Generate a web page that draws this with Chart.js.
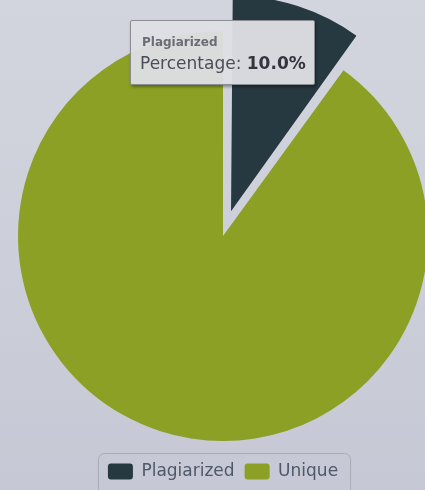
<!DOCTYPE html>
<html>
<head>
<meta charset="utf-8">
<script src="https://cdn.jsdelivr.net/npm/chart.js@4"></script>
<style>
  html, body { margin:0; padding:0; background:#cbcdd8; }
  #wrap { position:relative; width:425px; height:490px; overflow:hidden;
          background: linear-gradient(#d3d5de, #c6c9d5); }
  canvas { position:absolute; left:0; top:0; }
  #tip { position:absolute; left:130px; top:20px; width:185px; height:65px;
         background:rgba(222,223,228,0.96); border:1px solid #8a8c92; border-radius:2px;
         box-shadow: 1px 2px 3px rgba(0,0,0,0.35); font-family:"DejaVu Sans", sans-serif;
         color:#4a4e58; box-sizing:border-box; }
  #tipTitle { position:absolute; left:11px; top:14px; font-size:12px; font-weight:bold; color:#6a6d75; line-height:14px; }
  #tipBody { position:absolute; left:9px; top:32px; font-size:17px; line-height:20px; white-space:nowrap; }
  #tipBody b { color:#33363e; }
</style>
</head>
<body>
<div id="wrap">
  <canvas id="c" width="446" height="490"></canvas>
  <div id="tip"><div id="tipTitle"></div><div id="tipBody"></div></div>
</div>
<script>
const categories = ['Plagiarized', 'Unique'];
const values = [10, 90];
const sliceColors = ['#263840', '#8ba024'];
const sliceOffsets = [104, 0];

const legendBox = {
  id: 'legendBox',
  afterDraw(chart) {
    const lg = chart.legend;
    if (!lg || !lg.legendHitBoxes || !lg.legendHitBoxes.length) return;
    const hb = lg.legendHitBoxes;
    const last = hb[hb.length - 1];
    const x0 = hb[0].left - 10, x1 = last.left + last.width + 12;
    const y0 = hb[0].top - 10, y1 = hb[0].top + hb[0].height + 14;
    const ctx = chart.ctx;
    ctx.save();
    ctx.strokeStyle = '#a9acb6';
    ctx.lineWidth = 1;
    ctx.beginPath();
    ctx.roundRect(x0 + 0.5, y0 + 0.5, x1 - x0, y1 - y0, 6);
    ctx.stroke();
    ctx.restore();
  }
};

const chart = new Chart(document.getElementById('c'), {
  type: 'pie',
  data: {
    labels: categories,
    datasets: [{
      data: values,
      backgroundColor: sliceColors,
      borderWidth: 0,
      offset: sliceOffsets,
      radius: 205,
      clip: false
    }]
  },
  options: {
    responsive: false,
    animation: false,
    layout: { padding: { left: 0, right: 0, top: 19, bottom: 0 } },
    plugins: {
      tooltip: { enabled: false },
      legend: {
        position: 'bottom',
        labels: {
          boxWidth: 25, boxHeight: 16, padding: 10,
          color: '#4f5868',
          font: { family: 'DejaVu Sans', size: 17 },
          useBorderRadius: true, borderRadius: 3
        }
      }
    }
  },
  plugins: [legendBox]
});

const total = values.reduce((a, b) => a + b, 0);
document.getElementById('tipTitle').textContent = categories[0];
document.getElementById('tipBody').innerHTML = 'Percentage: <b>' + (values[0] / total * 100).toFixed(1) + '%</b>';
</script>
</body>
</html>
